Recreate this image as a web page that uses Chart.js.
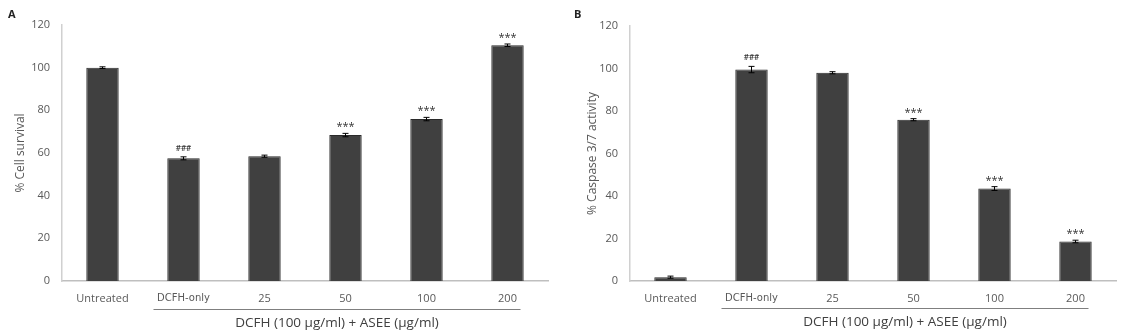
<!DOCTYPE html>
<html><head><meta charset="utf-8">
<script src="https://cdn.jsdelivr.net/npm/chart.js@4.4.1/dist/chart.umd.min.js"></script>
<style>
html,body{margin:0;padding:0;background:#fff;width:1126px;height:336px;overflow:hidden}
.w{position:absolute;top:0;height:336px}
</style></head><body>
<div class="w" style="left:0;width:560px"><canvas id="cA"></canvas></div>
<div class="w" style="left:560px;width:566px"><canvas id="cB"></canvas></div>
<script>
const categories = ["Untreated", "DCFH-only", "25", "50", "100", "200"];
const survivalValues = [100, 57.5, 58.5, 68.4, 75.9, 110.5];
const survivalErrors = [0.4, 0.7, 0.5, 0.8, 0.8, 0.6];
const survivalMarks = ["", "###", "", "***", "***", "***"];
const caspaseValues = [1.8, 99.5, 98.0, 75.9, 43.5, 18.6];
const caspaseErrors = [0.5, 1.5, 0.5, 0.5, 0.9, 0.6];
const caspaseMarks = ["", "###", "", "***", "***", "***"];
const yTicks = [0, 20, 40, 60, 80, 100, 120];
const groupLabel = "DCFH (100 \u00b5g/ml) + ASEE (\u00b5g/ml)";

const FONT = "'Open Sans', 'Liberation Sans', sans-serif";
const TXT = "#595959";

function makeChart(id, w, letter, yTitle, values, errors, marks, opt) {
  const cv = document.getElementById(id);
  cv.width = w; cv.height = 336;
  cv.style.width = w + "px"; cv.style.height = "336px";
  const deco = {
    id: "deco",
    afterDatasetsDraw(chart) {
      const ctx = chart.ctx, x = chart.scales.x, y = chart.scales.y;
      ctx.save();
      // error bars
      ctx.strokeStyle = "#000"; ctx.lineWidth = 1;
      values.forEach((v, i) => {
        const cx = x.getPixelForValue(i);
        const t = y.getPixelForValue(v + errors[i]), b = y.getPixelForValue(v - errors[i]);
        ctx.beginPath();
        ctx.moveTo(cx, t); ctx.lineTo(cx, b);
        ctx.moveTo(cx - 3, t); ctx.lineTo(cx + 3, t);
        ctx.moveTo(cx - 3, b); ctx.lineTo(cx + 3, b);
        ctx.stroke();
      });
      // significance marks
      ctx.fillStyle = "#333"; ctx.textAlign = "center"; ctx.textBaseline = "alphabetic";
      marks.forEach((m, i) => {
        if (!m) return;
        const cx = x.getPixelForValue(i);
        const ty = y.getPixelForValue(values[i] + errors[i]) - 6;
        ctx.font = (m === "###" ? "600 8px " : "11px ") + FONT;
        ctx.fillText(m, cx, m === "###" ? ty : ty + 3);
      });
      // group underline
      const x1 = x.getPixelForValue(1) - 30, x2 = x.getPixelForValue(5) + 13;
      ctx.strokeStyle = "#7f7f7f"; ctx.lineWidth = 1;
      ctx.beginPath(); ctx.moveTo(x1, opt.lineY + 0.5); ctx.lineTo(x2, opt.lineY + 0.5); ctx.stroke();
      ctx.fillStyle = "#404040"; ctx.font = "13.5px " + FONT; ctx.textBaseline = "middle";
      ctx.fillText(groupLabel, (x1 + x2) / 2, opt.lineY + 14);
      // panel letter
      ctx.fillStyle = "#222"; ctx.font = "bold 11px " + FONT; ctx.textAlign = "left";
      ctx.fillText(letter, opt.letterX, 15);
      ctx.restore();
    }
  };
  return new Chart(cv, {
    type: "bar",
    data: { labels: categories, datasets: [{ data: values, backgroundColor: "#404040",
      borderColor: "#2a2a2a", borderWidth: 1, barPercentage: 0.4, categoryPercentage: 1 }] },
    options: {
      responsive: false, animation: false, devicePixelRatio: 1,
      layout: { padding: { left: opt.left, right: opt.right, top: opt.top, bottom: 0 } },
      plugins: { legend: { display: false }, tooltip: { enabled: false } },
      scales: {
        x: {
          grid: { display: false, drawTicks: false },
          border: { color: "#bfbfbf", width: 1.5 },
          ticks: { color: TXT, padding: 11, maxRotation: 0, autoSkip: false,
            font: ctx => (ctx.index === 1 ? { family: "'DejaVu Sans', sans-serif", size: 10 } : { family: FONT, size: 11 }) },
          afterFit: s => { s.height = 55; }
        },
        y: {
          min: 0, max: 120,
          afterBuildTicks: s => { s.ticks = yTicks.map(v => ({ value: v })); },
          grid: { display: false, drawTicks: false },
          border: { color: "#d0d0d0", width: 1.5 },
          ticks: { color: TXT, padding: 12, font: { family: FONT, size: 11 } },
          title: { display: true, text: yTitle, color: TXT, font: { family: FONT, size: 12 }, padding: { top: 0, bottom: 4 } },
          afterFit: s => { s.width = opt.yw; }
        }
      }
    },
    plugins: [deco]
  });
}

makeChart("cA", 560, "A", "% Cell survival", survivalValues, survivalErrors, survivalMarks,
  { left: 13, right: 12, top: 25, yw: 49, lineY: 309, letterX: 8 });
makeChart("cB", 566, "B", "% Caspase 3/7 activity", caspaseValues, caspaseErrors, caspaseMarks,
  { left: 25, right: 10, top: 26, yw: 45, lineY: 308, letterX: 14 });
</script>
</body></html>
